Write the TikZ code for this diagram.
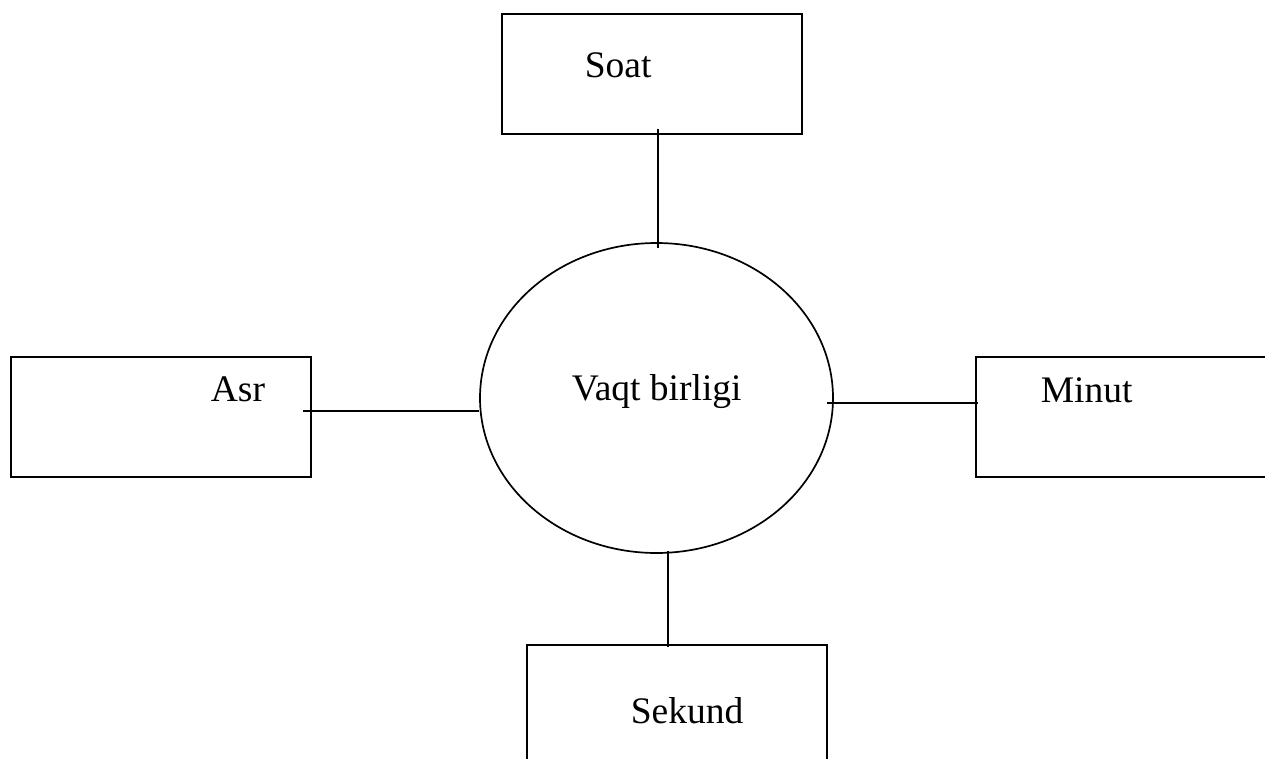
\documentclass[tikz,border=0pt]{standalone}
\usepackage{fontspec}
\setmainfont{Liberation Serif}
\usetikzlibrary{shapes.geometric}
\begin{document}
\begin{tikzpicture}[x=1pt,y=-1pt,
  line width=1.7pt,
  unit/.style={draw,rectangle,minimum width=300pt,minimum height=120pt,inner sep=0pt,anchor=north west},
  hub/.style={draw,ellipse,minimum width=353pt,minimum height=310pt,inner sep=0pt},
  lbl/.style={anchor=base west,inner sep=0pt,font=\fontsize{37.5}{42}\selectfont}]
\useasboundingbox (0,0) rectangle (1265,758);
\begin{scope}
\clip (0,0) rectangle (1265,758);
% the centre and its four units
\node[hub] (vaqt) at (656.5,398) {};
\node[unit] (soat) at (501,13) {};
\node[unit] (asr) at (10,356) {};
\node[unit,minimum width=320pt] (minut) at (975,356) {};
\node[unit,minimum height=140pt] (sekund) at (526,644) {};
% labels
\node[lbl] (tvaqt) at (571,400) {Vaqt birligi};
\node[lbl] (tsoat) at (584,77) {Soat};
\node[lbl] (tasr) at (210,401) {Asr};
\node[lbl] (tminut) at (1040,402) {Minut};
\node[lbl] (tsekund) at (630,723) {Sekund};
% connectors
\coordinate (s1) at ([yshift=6pt]soat.south -| 658,0);
\coordinate (s2) at (658,248);
\draw (s1) -- (s2);
\coordinate (a1) at (303,411);
\coordinate (a2) at (479,411);
\draw (a1) -- (a2);
\coordinate (m1) at (827,403);
\coordinate (m2) at (978,403);
\draw (m1) -- (m2);
\coordinate (k1) at (668,551);
\coordinate (k2) at (668,647);
\draw (k1) -- (k2);
\end{scope}
\end{tikzpicture}
\end{document}
